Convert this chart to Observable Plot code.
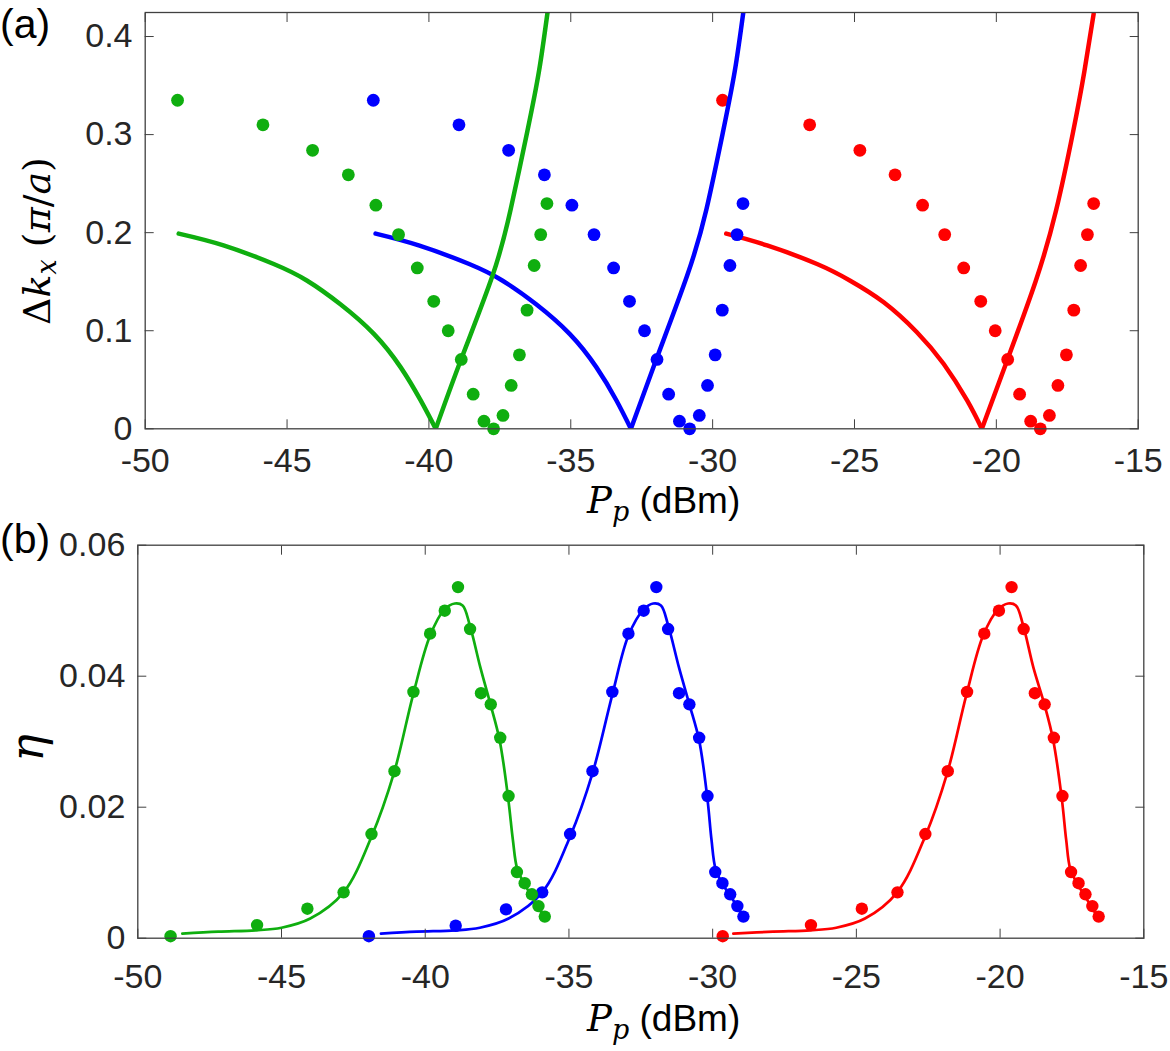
<!DOCTYPE html>
<html><head><meta charset="utf-8">
<script src="https://cdn.jsdelivr.net/npm/d3@7"></script>
<script src="https://cdn.jsdelivr.net/npm/@observablehq/plot@0.6"></script>
<style>
body{margin:0;background:#fff;}
#fig{position:relative;width:1170px;height:1051px;}
#fig svg{position:absolute;left:0;top:0;overflow:visible;background:transparent;}
</style></head><body><div id="fig"></div>
<script>
// ---- tick labels ----
const xTicks = [-50, -45, -40, -35, -30, -25, -20, -15];
const yTicksA = [0, 0.1, 0.2, 0.3, 0.4];
const yTicksB = [0, 0.02, 0.04, 0.06];

// ---- measured pump powers (dBm), shared by both panels ----
const greenP = [-48.86, -45.85, -44.10, -42.84, -41.87, -41.07, -40.41, -39.83, -39.32, -38.86, -38.44, -38.06, -37.72, -37.39, -37.10, -36.81, -36.54, -36.29, -36.06, -35.84];
const blueP  = [-41.96, -38.94, -37.19, -35.93, -34.96, -34.18, -33.49, -32.93, -32.40, -31.96, -31.55, -31.17, -30.81, -30.47, -30.18, -29.91, -29.66, -29.39, -29.14, -28.93];
const redP   = [-29.65, -26.58, -24.81, -23.57, -22.60, -21.82, -21.15, -20.55, -20.04, -19.60, -19.18, -18.79, -18.45, -18.13, -17.83, -17.53, -17.27, -17.03, -16.79, -16.57];

// ---- panel (a): measured Δk_x ----
const greenDk = [0.335, 0.310, 0.284, 0.259, 0.228, 0.198, 0.164, 0.130, 0.100, 0.0707, 0.0353, 0.0078, 0.0, 0.0136, 0.0442, 0.0754, 0.121, 0.1665, 0.198, 0.2297];
const blueDk  = [0.335, 0.310, 0.284, 0.259, 0.228, 0.198, 0.164, 0.130, 0.100, 0.0707, 0.0353, 0.0078, 0.0, 0.0136, 0.0442, 0.0754, 0.121, 0.1665, 0.198, 0.2297];
const redDk   = [0.335, 0.310, 0.284, 0.259, 0.228, 0.198, 0.164, 0.130, 0.100, 0.0707, 0.0353, 0.0078, 0.0, 0.0136, 0.0442, 0.0754, 0.121, 0.1665, 0.198, 0.2297];

// ---- panel (a): theory curves (left branch / right branch) ----
const greenLeftP  = [-48.82, -47.24, -45.47, -44.29, -43.12, -41.94, -41.00, -40.29, -39.76];
const greenLeftDk = [0.199, 0.187, 0.168, 0.151, 0.127, 0.0968, 0.0629, 0.0289, 0];
const greenRightP  = [-39.76, -38.88, -37.76, -37.12, -36.53, -36.12, -35.82];
const greenRightDk = [0, 0.0697, 0.156, 0.2236, 0.3034, 0.3646, 0.4244];

const blueLeftP  = [-41.88, -40.36, -38.58, -37.40, -36.22, -35.04, -34.10, -33.39, -32.88];
const blueLeftDk = [0.199, 0.187, 0.168, 0.151, 0.127, 0.0968, 0.0629, 0.0289, 0];
const blueRightP  = [-32.88, -32.00, -30.90, -30.22, -29.63, -29.22, -28.92];
const blueRightDk = [0, 0.0697, 0.156, 0.2236, 0.3034, 0.3646, 0.4244];

const redLeftP  = [-29.52, -28.08, -26.32, -25.15, -23.97, -22.80, -21.86, -21.03, -20.51];
const redLeftDk = [0.199, 0.187, 0.168, 0.151, 0.129, 0.0985, 0.0663, 0.0289, 0];
const redRightP  = [-20.51, -19.62, -18.62, -17.90, -17.30, -16.90, -16.57];
const redRightDk = [0, 0.0697, 0.150, 0.222, 0.302, 0.364, 0.423];

// ---- panel (b): measured η ----
const greenEta = [0.0003, 0.0020, 0.0045, 0.0070, 0.0159, 0.0255, 0.0376, 0.0465, 0.0500, 0.0536, 0.0472, 0.0374, 0.0357, 0.0306, 0.0217, 0.0101, 0.0084, 0.0067, 0.0049, 0.0033];
const blueEta  = [0.0003, 0.0019, 0.0044, 0.0070, 0.0159, 0.0255, 0.0376, 0.0465, 0.0500, 0.0536, 0.0472, 0.0374, 0.0357, 0.0306, 0.0217, 0.0101, 0.0084, 0.0067, 0.0049, 0.0033];
const redEta   = [0.0003, 0.0020, 0.0045, 0.0070, 0.0159, 0.0255, 0.0376, 0.0465, 0.0500, 0.0536, 0.0472, 0.0374, 0.0357, 0.0306, 0.0217, 0.0101, 0.0084, 0.0067, 0.0049, 0.0033];

// ---- panel (b): fit curves ----
const greenFitP   = [-48.45, -47.2, -45.9, -45.0, -44.0, -42.84, -41.87, -41.09, -40.42, -39.83, -39.33, -38.97, -38.70, -38.45, -38.08, -37.73, -37.41, -37.11, -36.95, -36.80, -36.55, -36.31, -36.08, -35.85];
const greenFitEta = [0.0007, 0.0010, 0.0012, 0.0016, 0.0030, 0.0070, 0.0155, 0.0252, 0.0372, 0.0462, 0.0502, 0.0511, 0.0508, 0.0478, 0.0413, 0.0357, 0.0302, 0.0212, 0.0150, 0.0106, 0.0083, 0.0065, 0.0048, 0.0032];
const blueFitP    = [-41.54, -40.3, -38.95, -38.1, -37.1, -35.93, -34.96, -34.18, -33.49, -32.93, -32.40, -32.07, -31.80, -31.55, -31.17, -30.81, -30.47, -30.18, -30.04, -29.90, -29.66, -29.39, -29.14, -28.93];
const blueFitEta  = [0.0007, 0.0010, 0.0012, 0.0016, 0.0030, 0.0070, 0.0155, 0.0252, 0.0372, 0.0462, 0.0502, 0.0511, 0.0508, 0.0478, 0.0413, 0.0357, 0.0302, 0.0212, 0.0150, 0.0106, 0.0083, 0.0065, 0.0048, 0.0032];
const redFitP     = [-29.28, -27.9, -26.6, -25.7, -24.7, -23.58, -22.61, -21.84, -21.17, -20.59, -20.07, -19.72, -19.45, -19.20, -18.84, -18.46, -18.15, -17.85, -17.70, -17.56, -17.31, -17.06, -16.82, -16.60];
const redFitEta   = [0.0007, 0.0010, 0.0012, 0.0016, 0.0030, 0.0070, 0.0155, 0.0252, 0.0372, 0.0462, 0.0502, 0.0511, 0.0508, 0.0478, 0.0413, 0.0357, 0.0302, 0.0212, 0.0150, 0.0106, 0.0083, 0.0065, 0.0048, 0.0032];

// ---- colours ----
const GREEN = "#0fae0f", BLUE = "#0000ff", RED = "#ff0000";

// ---- table builders ----
const pts = (P, V) => P.map((p, i) => ({P: p, v: V[i]}));
const branches = (lp, lv, rp, rv) => [
  ...lp.map((p, i) => ({P: p, v: lv[i], b: "L"})),
  ...rp.map((p, i) => ({P: p, v: rv[i], b: "R"}))
];

const W = 1170, H = 1051;
const fmt = d => String(d);
const baseStyle = {fontFamily: "'Liberation Sans', Arial, sans-serif", fontSize: "34px", color: "#262626", background: "transparent", overflow: "visible"};

// frame geometry (pixels)
const A = {l: 144.7, r: 1137.7, t: 12, b: 428.3};
const B = {l: 137.3, r: 1143.3, t: 544.7, b: 937.7};

function axes(yTicks, padX, padY) {
  return [
    Plot.frame({stroke: "#404040", strokeWidth: 1.3}),
    Plot.axisX({ticks: xTicks, tickSize: -9, tickPadding: padX, tickFormat: fmt, label: null, stroke: "#404040"}),
    Plot.axisX({anchor: "top", ticks: xTicks, tickSize: -9, tickFormat: () => "", label: null, stroke: "#404040"}),
    Plot.axisY({ticks: yTicks, tickSize: -9, tickPadding: padY, tickFormat: fmt, label: null, stroke: "#404040"}),
    Plot.axisY({anchor: "right", ticks: yTicks, tickSize: -9, tickFormat: () => "", label: null, stroke: "#404040"})
  ];
}

const plotA = Plot.plot({
  width: W, height: H, style: baseStyle,
  marginTop: A.t, marginBottom: H - A.b, marginLeft: A.l, marginRight: W - A.r,
  x: {domain: [-50, -15], axis: null},
  y: {domain: [0, 0.4245], axis: null},
  marks: [
    Plot.line(branches(redLeftP, redLeftDk, redRightP, redRightDk), {x: "P", y: "v", z: "b", stroke: RED, strokeWidth: 4.5, curve: "natural", clip: true}),
    Plot.dot(pts(redP, redDk), {x: "P", y: "v", r: 6.4, fill: RED}),
    Plot.line(branches(blueLeftP, blueLeftDk, blueRightP, blueRightDk), {x: "P", y: "v", z: "b", stroke: BLUE, strokeWidth: 4.5, curve: "natural", clip: true}),
    Plot.dot(pts(blueP, blueDk), {x: "P", y: "v", r: 6.4, fill: BLUE}),
    Plot.line(branches(greenLeftP, greenLeftDk, greenRightP, greenRightDk), {x: "P", y: "v", z: "b", stroke: GREEN, strokeWidth: 4.5, curve: "natural", clip: true}),
    Plot.dot(pts(greenP, greenDk), {x: "P", y: "v", r: 6.4, fill: GREEN}),
    ...axes(yTicksA, 28, 21.7)
  ]
});

const plotB = Plot.plot({
  width: W, height: H, style: baseStyle,
  marginTop: B.t, marginBottom: H - B.b, marginLeft: B.l, marginRight: W - B.r,
  x: {domain: [-50, -15], axis: null},
  y: {domain: [0, 0.06], axis: null},
  marks: [
    Plot.line(pts(redFitP, redFitEta), {x: "P", y: "v", stroke: RED, strokeWidth: 2.7, curve: "catmull-rom"}),
    Plot.dot(pts(redP, redEta), {x: "P", y: "v", r: 6.2, fill: RED}),
    Plot.line(pts(blueFitP, blueFitEta), {x: "P", y: "v", stroke: BLUE, strokeWidth: 2.7, curve: "catmull-rom"}),
    Plot.dot(pts(blueP, blueEta), {x: "P", y: "v", r: 6.2, fill: BLUE}),
    Plot.line(pts(greenFitP, greenFitEta), {x: "P", y: "v", stroke: GREEN, strokeWidth: 2.7, curve: "catmull-rom"}),
    Plot.dot(pts(greenP, greenEta), {x: "P", y: "v", r: 6.2, fill: GREEN}),
    ...axes(yTicksB, 35, 21.5)
  ]
});

const fig = document.getElementById("fig");
fig.append(plotA);
fig.append(plotB);

// ---- overlay text: panel letters and axis titles ----
const ov = d3.select("#fig").append("svg").attr("width", W).attr("height", H);
const SANS = "'Liberation Sans', Arial, sans-serif";
const SERIF = "'DejaVu Serif', serif";

ov.append("text").attr("x", 0).attr("y", 38).attr("font-family", SANS).attr("font-size", 41).text("(a)");
ov.append("text").attr("x", 0).attr("y", 553).attr("font-family", SANS).attr("font-size", 41).text("(b)");

function ppLabel(y) {
  const t = ov.append("text").attr("x", 587).attr("y", y).attr("font-size", 37);
  t.append("tspan").attr("font-family", SERIF).attr("font-style", "italic").text("P");
  t.append("tspan").attr("font-family", SERIF).attr("font-style", "italic").attr("font-size", 27).attr("dy", 8).text("p");
  t.append("tspan").attr("font-family", SANS).attr("dy", -8).text(" (dBm)");
}
ppLabel(513);
ppLabel(1031);

const yl = ov.append("text").attr("transform", "translate(50,241) rotate(-90)")
  .attr("text-anchor", "middle").attr("font-family", SERIF).attr("font-size", 38);
yl.append("tspan").text("Δ");
yl.append("tspan").attr("font-style", "italic").text("k");
yl.append("tspan").attr("font-style", "italic").attr("font-size", 27).attr("dy", 6).text("x");
yl.append("tspan").attr("dy", -6).text(" (");
yl.append("tspan").attr("font-style", "italic").text("π");
yl.append("tspan").text("/");
yl.append("tspan").attr("font-style", "italic").text("a");
yl.append("tspan").text(")");

ov.append("text").attr("transform", "translate(43,748) rotate(-90)")
  .attr("text-anchor", "middle").attr("font-family", SERIF).attr("font-style", "italic")
  .attr("font-size", 46).text("η");
</script>
</body></html>
